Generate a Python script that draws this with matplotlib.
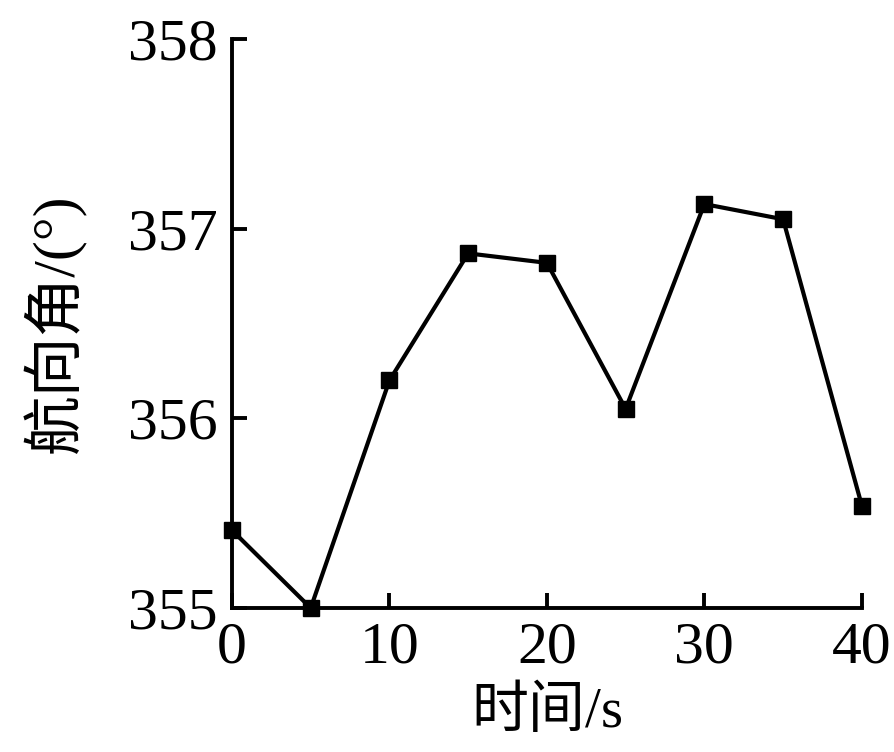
import numpy as np
import matplotlib
matplotlib.use('Agg')
import matplotlib.pyplot as plt

plt.rcParams['font.family'] = ['Liberation Serif', 'Noto Sans CJK SC']

time_s = [0, 5, 10, 15, 20, 25, 30, 35, 40]
heading = [355.41, 355.00, 356.20, 356.87, 356.82, 356.05, 357.13, 357.05, 355.54]
xticks = [0, 10, 20, 30, 40]
yticks = [355, 356, 357, 358]

fig = plt.figure(figsize=(8.94, 7.52), dpi=100)
ax = fig.add_axes([0.2595, 0.1915, 0.7045, 0.7565])

ax.plot(time_s, heading, color='black', lw=3, marker='s', ms=11,
        clip_on=False, zorder=3)

ax.set_xlim(0, 40)
ax.set_ylim(355, 358)
ax.set_xticks(xticks)
ax.set_yticks(yticks)

for s in ['top', 'right']:
    ax.spines[s].set_visible(False)
for s in ['left', 'bottom']:
    ax.spines[s].set_linewidth(2.8)

ax.tick_params(direction='in', length=11, width=2.8, labelsize=43, pad=10)
ax.set_xlabel('时间/s', fontsize=41, labelpad=8)
ax.set_ylabel('航向角/(°)', fontsize=43, labelpad=30)

plt.savefig('out.png', dpi=100)
plt.close()
